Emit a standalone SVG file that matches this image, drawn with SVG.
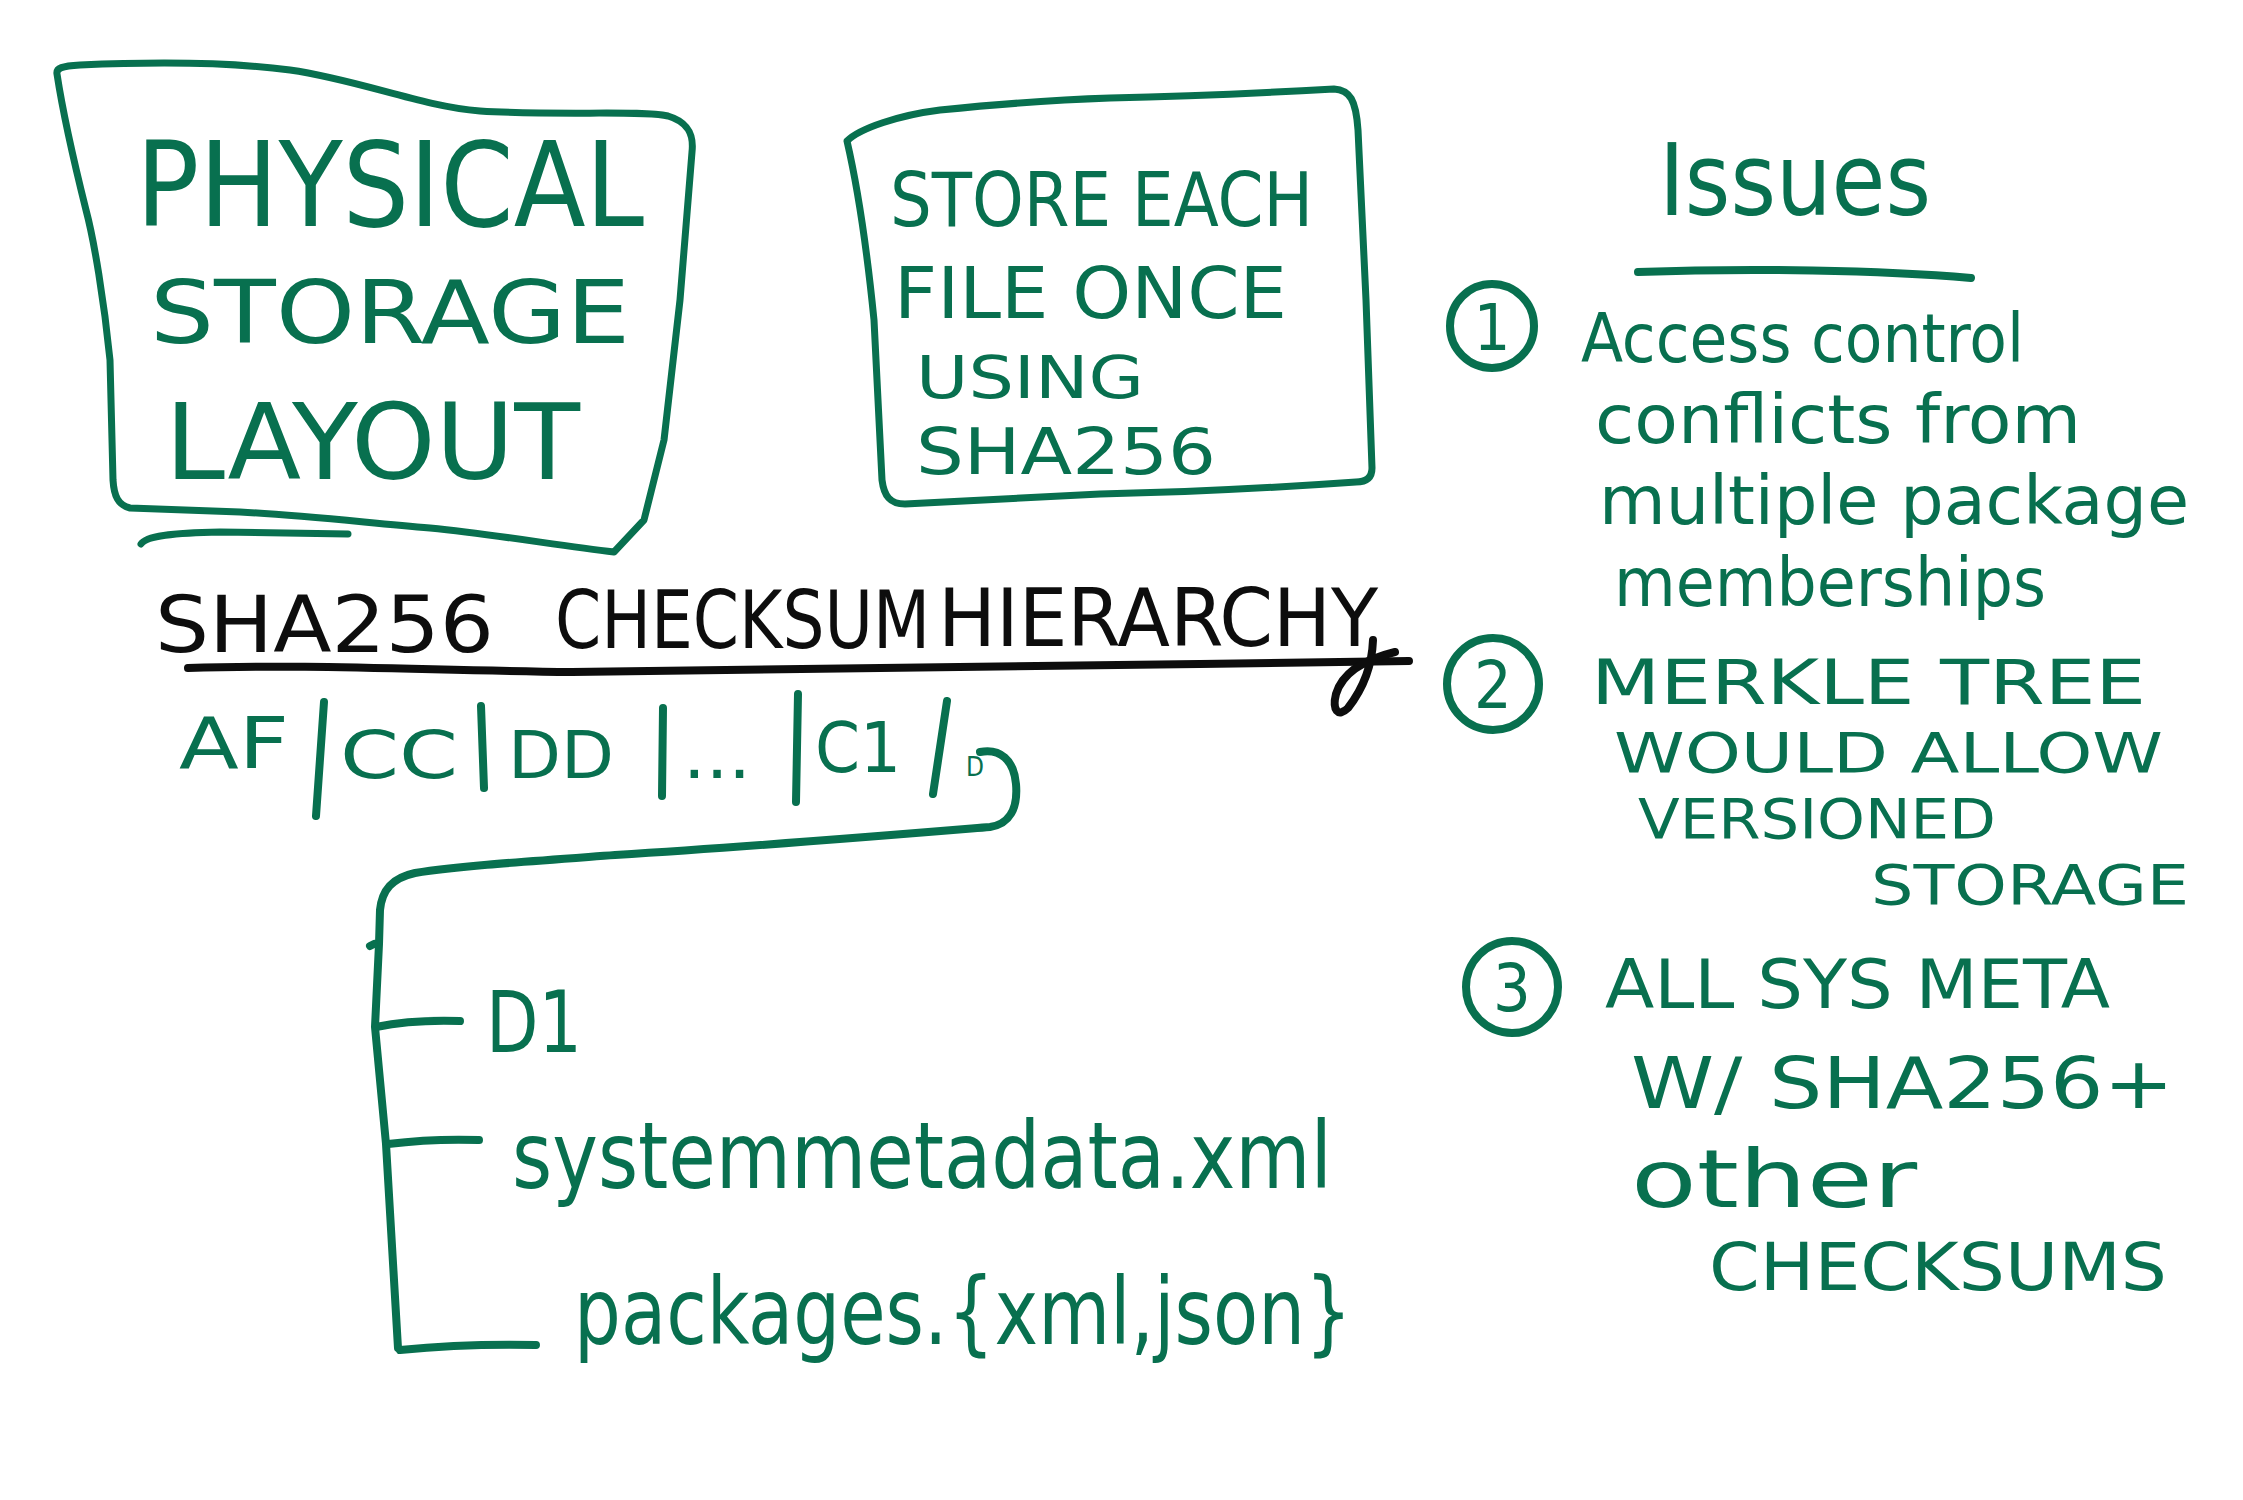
<svg xmlns="http://www.w3.org/2000/svg" width="2243" height="1500" viewBox="0 0 2243 1500">
  <style>
    .g { fill: #08704f; }
    .k { fill: #0d0d0d; }
    .t { font-family: "DejaVu Sans Condensed", "DejaVu Sans", "Liberation Sans", sans-serif; }
    .box { fill: none; stroke: #08704f; stroke-width: 7; stroke-linecap: round; stroke-linejoin: round; }
    .line { fill: none; stroke: #08704f; stroke-width: 8; stroke-linecap: round; stroke-linejoin: round; }
    .ink { fill: none; stroke: #0d0d0d; stroke-width: 8; stroke-linecap: round; stroke-linejoin: round; }
  </style>
  <rect width="2243" height="1500" fill="#ffffff"/>

  <!-- left panel: physical storage layout -->
  <g id="physical-storage-layout">
    <path class="box" d="M57,74 C56,68 62,66 80,65 C150,62 230,62 290,70 C360,80 420,106 480,111 C560,116 640,110 668,116 C688,122 694,134 692,152 L680,300 L664,440 L644,520 L614,552 C560,546 500,535 430,528 C360,522 300,515 240,512 L130,508 C118,505 114,496 113,480 L110,360 C104,300 94,240 86,210 C76,170 64,120 57,74 Z"/>
    <path class="box" d="M141,544 C146,536 170,533 220,532 L348,534"/>
    <text class="t g" x="136" y="226" font-size="118" textLength="508" lengthAdjust="spacingAndGlyphs">PHYSICAL</text>
    <text class="t g" x="150" y="343" font-size="88" textLength="480" lengthAdjust="spacingAndGlyphs">STORAGE</text>
    <text class="t g" x="165" y="479" font-size="105" textLength="415" lengthAdjust="spacingAndGlyphs">LAYOUT</text>
  </g>

  <!-- middle panel: store each file once -->
  <g id="store-each-file-once">
    <path class="box" d="M847,141 C860,128 900,115 940,110 C1000,104 1050,100 1110,98 C1200,96 1280,92 1334,89 C1350,90 1356,100 1358,130 L1366,300 L1372,468 C1372,478 1366,482 1356,482 C1300,486 1200,492 1100,494 L905,504 C890,504 884,496 882,480 L874,320 C866,240 856,180 847,141 Z"/>
    <text class="t g" x="890" y="226" font-size="74" textLength="423" lengthAdjust="spacingAndGlyphs">STORE EACH</text>
    <text class="t g" x="894" y="318" font-size="72" textLength="393" lengthAdjust="spacingAndGlyphs">FILE ONCE</text>
    <text class="t g" x="916" y="398" font-size="58" textLength="228" lengthAdjust="spacingAndGlyphs">USING</text>
    <text class="t g" x="916" y="474" font-size="64" textLength="300" lengthAdjust="spacingAndGlyphs">SHA256</text>
  </g>

  <!-- checksum hierarchy heading -->
  <g id="checksum-hierarchy-title">
    <text class="t k" x="155" y="652" font-size="78" textLength="339" lengthAdjust="spacingAndGlyphs">SHA256</text>
    <text class="t k" x="555" y="648" font-size="80" textLength="375" lengthAdjust="spacingAndGlyphs">CHECKSUM</text>
    <text class="t k" x="938" y="646" font-size="80" textLength="440" lengthAdjust="spacingAndGlyphs">HIERARCHY</text>
    <path class="ink" d="M188,668 C300,664 420,670 572,672 C800,670 1000,668 1200,664 L1409,661"/>
    <path class="ink" d="M1373,640 C1372,668 1362,690 1348,708 C1338,718 1332,710 1336,694 C1342,674 1362,660 1395,652"/>
  </g>

  <!-- hash path segments -->
  <g id="hash-path">
    <text class="t g" x="179" y="768" font-size="72" textLength="110" lengthAdjust="spacingAndGlyphs">AF</text>
    <text class="t g" x="340" y="778" font-size="66" textLength="118" lengthAdjust="spacingAndGlyphs">CC</text>
    <text class="t g" x="508" y="778" font-size="66" textLength="106" lengthAdjust="spacingAndGlyphs">DD</text>
    <text class="t g" x="683" y="778" font-size="66" textLength="68" lengthAdjust="spacingAndGlyphs">...</text>
    <text class="t g" x="815" y="772" font-size="70" textLength="86" lengthAdjust="spacingAndGlyphs">C1</text>
    <text class="t g" x="966" y="776" font-size="26">D</text>
  </g>

  <!-- directory nodes -->
  <g id="node-d1">
    <text class="t g" x="486" y="1052" font-size="86" textLength="96" lengthAdjust="spacingAndGlyphs">D1</text>
  </g>
  <g id="node-systemmetadata">
    <text class="t g" x="512" y="1188" font-size="92" textLength="820" lengthAdjust="spacingAndGlyphs">systemmetadata.xml</text>
  </g>
  <g id="node-packages">
    <text class="t g" x="574" y="1344" font-size="92" textLength="778" lengthAdjust="spacingAndGlyphs">packages.{xml,json}</text>
  </g>

  <!-- issues list -->
  <g id="issues">
    <text class="t g" x="1659" y="215" font-size="100" textLength="272" lengthAdjust="spacingAndGlyphs">Issues</text>
    <path class="line" d="M1638,272 C1750,268 1880,270 1971,278"/>
  </g>
  <g id="issue-1">
    <circle class="line" cx="1492" cy="326" r="42"/>
    <text class="t g" x="1492" y="350" font-size="64" text-anchor="middle">1</text>
    <text class="t g" x="1581" y="362" font-size="68" textLength="443" lengthAdjust="spacingAndGlyphs">Access control</text>
    <text class="t g" x="1595" y="443" font-size="68" textLength="486" lengthAdjust="spacingAndGlyphs">conflicts from</text>
    <text class="t g" x="1599" y="524" font-size="68" textLength="590" lengthAdjust="spacingAndGlyphs">multiple package</text>
    <text class="t g" x="1614" y="606" font-size="68" textLength="432" lengthAdjust="spacingAndGlyphs">memberships</text>
  </g>
  <g id="issue-2">
    <circle class="line" cx="1493" cy="684" r="46"/>
    <text class="t g" x="1493" y="708" font-size="66" text-anchor="middle">2</text>
    <text class="t g" x="1591" y="704" font-size="62" textLength="555" lengthAdjust="spacingAndGlyphs">MERKLE TREE</text>
    <text class="t g" x="1614" y="772" font-size="56" textLength="549" lengthAdjust="spacingAndGlyphs">WOULD ALLOW</text>
    <text class="t g" x="1638" y="838" font-size="56" textLength="358" lengthAdjust="spacingAndGlyphs">VERSIONED</text>
    <text class="t g" x="1871" y="904" font-size="56" textLength="318" lengthAdjust="spacingAndGlyphs">STORAGE</text>
  </g>
  <g id="issue-3">
    <circle class="line" cx="1512" cy="987" r="46"/>
    <text class="t g" x="1512" y="1011" font-size="66" text-anchor="middle">3</text>
    <text class="t g" x="1605" y="1008" font-size="68" textLength="505" lengthAdjust="spacingAndGlyphs">ALL SYS META</text>
    <text class="t g" x="1631" y="1108" font-size="72" textLength="543" lengthAdjust="spacingAndGlyphs">W/ SHA256+</text>
    <text class="t g" x="1631" y="1207" font-size="80" textLength="286" lengthAdjust="spacingAndGlyphs">other</text>
    <text class="t g" x="1709" y="1290" font-size="66" textLength="458" lengthAdjust="spacingAndGlyphs">CHECKSUMS</text>
  </g>

  <!-- connectors: path separators and directory tree -->
  <g id="connectors">
    <path class="line" d="M324,702 L316,816"/>
    <path class="line" d="M481,706 L484,788"/>
    <path class="line" d="M663,708 L662,796"/>
    <path class="line" d="M798,694 L796,802"/>
    <path class="line" d="M947,701 L933,794"/>
    <path class="line" d="M980,752 C1000,748 1014,760 1016,784 C1018,808 1010,824 990,827 C880,836 760,846 615,855 C520,862 460,866 415,873 C392,878 382,890 380,910 L379,944 L375,1027 L386,1144 L398,1348"/>
    <path class="line" d="M374,944 L370,946"/>
    <path class="line" d="M376,1027 C400,1022 430,1020 460,1021"/>
    <path class="line" d="M388,1144 C420,1140 450,1139 479,1140"/>
    <path class="line" d="M400,1350 C440,1346 490,1344 536,1345"/>
  </g>
</svg>
